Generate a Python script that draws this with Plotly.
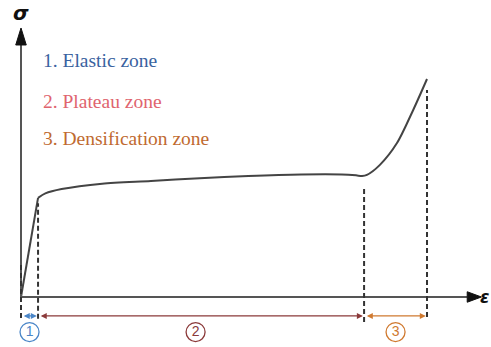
import plotly.graph_objects as go

# Schematic stress-strain curve of a cellular material (arbitrary units)
elastic_strain = [0, 4.2]
elastic_stress = [0, 45.5]

plateau_strain = [4.2, 6, 10, 20, 32, 44, 56, 69, 79, 82.5, 84.0, 85.2, 88.4, 92.6, 96.6, 100]
plateau_stress = [45.5, 47.5, 49.5, 52, 53.2, 54.5, 55.5, 56.2, 56.2, 55.8, 55.5, 56.0, 60.6, 70.6, 85.8, 100]

# Zone boundaries on the strain axis
zone_bounds = [0, 4.2, 84.5, 100]
zone_labels = ["1", "2", "3"]
zone_names = ["1. Elastic zone", "2. Plateau zone", "3. Densification zone"]
zone_text_colors = ["#3a62a0", "#e0646e", "#c06a30"]
zone_arrow_colors = ["#4a86c8", "#8b3a3a", "#d07a30"]

X_RANGE = [-5.172, 115.76]
Y_RANGE = [-22.94, 136.24]
AXIS_Y_TOP = 115.6
AXIS_Y_TIP = 123.4
AXIS_X_END = 109.9
AXIS_X_TIP = 113.4

fig = go.Figure()

curve_color = "#444444"
fig.add_trace(go.Scatter(x=elastic_strain, y=elastic_stress, mode="lines",
                         line=dict(color=curve_color, width=2), hoverinfo="skip"))
fig.add_trace(go.Scatter(x=plateau_strain, y=plateau_stress, mode="lines",
                         line=dict(color=curve_color, width=2, shape="spline", smoothing=0.8),
                         hoverinfo="skip"))

shapes = []
# Axes lines
shapes.append(dict(type="line", xref="x", yref="y", x0=0, y0=0, x1=0, y1=AXIS_Y_TOP,
                   line=dict(color="#555555", width=2)))
shapes.append(dict(type="line", xref="x", yref="y", x0=0, y0=0, x1=AXIS_X_END, y1=0,
                   line=dict(color="#555555", width=2)))
# Arrowheads of the axes
shapes.append(dict(type="path", xref="x", yref="y",
                   path=f"M -1.3 {AXIS_Y_TOP} L 1.3 {AXIS_Y_TOP} L 0 {AXIS_Y_TIP} Z",
                   fillcolor="#111111", line=dict(color="#111111", width=1)))
shapes.append(dict(type="path", xref="x", yref="y",
                   path=f"M {AXIS_X_END} -2.4 L {AXIS_X_END} 2.4 L {AXIS_X_TIP} 0 Z",
                   fillcolor="#111111", line=dict(color="#111111", width=1)))

# Dashed boundary lines
dash_tops = [14.7, 43, 50.5, 95]
dash_bottoms = [-9.6, -10, -11.5, -9.2]
for xb, top, bot in zip(zone_bounds, dash_tops, dash_bottoms):
    shapes.append(dict(type="line", xref="x", yref="y", x0=xb, y0=bot, x1=xb, y1=top,
                       line=dict(color="#333333", width=2, dash="5px,3px")))

annotations = []
arrow_y = -8.7
for i in range(3):
    a, b = zone_bounds[i], zone_bounds[i + 1]
    annotations.append(dict(x=b - 0.3, y=arrow_y, ax=a + 0.3, ay=arrow_y,
                            xref="x", yref="y", axref="x", ayref="y",
                            showarrow=True, arrowhead=2, arrowside="end+start",
                            arrowsize=1, arrowwidth=1.2, arrowcolor=zone_arrow_colors[i],
                            text=""))

# Zone descriptions
text_y = [108.7, 89.9, 72.5]
for name, color, ty in zip(zone_names, zone_text_colors, text_y):
    annotations.append(dict(x=5, y=ty, xref="x", yref="y", xanchor="left", yanchor="middle",
                            text=name, showarrow=False,
                            font=dict(family="Liberation Serif", size=19.5, color=color)))

# Axis symbols
annotations.append(dict(x=0, y=130.5, xref="x", yref="y", text="<b><i>σ</i></b>",
                        showarrow=False, xanchor="center", yanchor="middle",
                        font=dict(family="DejaVu Sans", size=20, color="#111111")))
annotations.append(dict(x=1, y=0.02, xref="paper", yref="y", text="<b><i>ε</i></b>",
                        showarrow=False, xanchor="right", yanchor="middle",
                        font=dict(family="DejaVu Sans", size=17, color="#111111")))

fig.update_layout(shapes=shapes, annotations=annotations)

# Circled zone numbers
circle_x = [2.1, 43, 92.25]
circle_y = -16.1
fig.add_trace(go.Scatter(x=circle_x, y=[circle_y] * 3, mode="markers+text",
                         text=zone_labels, textposition="middle center",
                         textfont=dict(family="Liberation Sans", size=14, color=zone_arrow_colors),
                         marker=dict(symbol="circle", size=19, color="white",
                                     line=dict(color=zone_arrow_colors, width=1.3)),
                         hoverinfo="skip"))

fig.update_layout(
    width=491, height=347,
    margin=dict(l=0, r=0, t=0, b=0),
    paper_bgcolor="white", plot_bgcolor="white",
    showlegend=False,
    xaxis=dict(range=X_RANGE, visible=False, fixedrange=True),
    yaxis=dict(range=Y_RANGE, visible=False, fixedrange=True),
)

fig.write_html("out.html")
